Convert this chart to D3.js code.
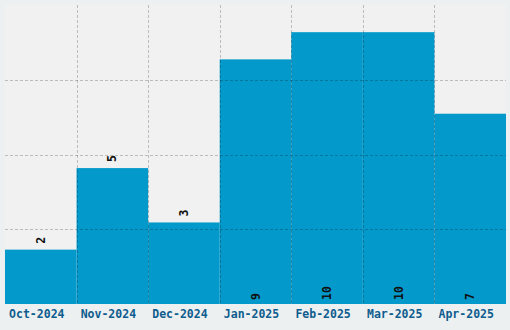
<!DOCTYPE html>
<html>
<head>
<meta charset="utf-8">
<script src="https://cdn.jsdelivr.net/npm/d3@7"></script>
<style>
  body { margin: 0; background: #edf0f1; }
</style>
</head>
<body>
<div id="chart"></div>
<script>
var months = ["Oct-2024", "Nov-2024", "Dec-2024", "Jan-2025", "Feb-2025", "Mar-2025", "Apr-2025"];
var counts = [2, 5, 3, 9, 10, 10, 7];
var yMax = 11;
var gridTicks = [0, 2.75, 5.5, 8.25, 11];

var margin = { top: 5, right: 4, bottom: 26, left: 5 },
    width = 510 - margin.left - margin.right,
    height = 330 - margin.top - margin.bottom;

var svg = d3
    .select("#chart")
    .append("svg")
    .attr("width", 510)
    .attr("height", 330)
    .style("display", "block")
    .append("g")
    .attr("transform", "translate(" + margin.left + "," + margin.top + ")");

var x = d3.scaleBand().domain(months).range([0, width]).padding(0);
var y = d3.scaleLinear().domain([0, yMax]).range([height, 0]);

svg.append("rect")
    .attr("width", width)
    .attr("height", height)
    .attr("fill", "#f1f1f1");

// bars
svg.append("g")
    .selectAll("rect")
    .data(months)
    .enter()
    .append("rect")
    .attr("x", function (d) { return x(d); })
    .attr("y", function (d, i) { return y(counts[i]); })
    .attr("width", x.bandwidth())
    .attr("height", function (d, i) { return height - y(counts[i]); })
    .attr("fill", "#0399ca");

// grid on top of bars
var grid = svg.append("g")
    .attr("stroke", "rgba(0,0,0,0.22)")
    .attr("stroke-dasharray", "3,2")
    .attr("stroke-width", 1);

grid.selectAll("line.h")
    .data(gridTicks.slice(1, -1))
    .enter()
    .append("line")
    .attr("class", "h")
    .attr("x1", 0)
    .attr("x2", width)
    .attr("y1", function (d) { return Math.round(y(d)) + 0.5; })
    .attr("y2", function (d) { return Math.round(y(d)) + 0.5; });

grid.selectAll("line.v")
    .data(months.slice(1))
    .enter()
    .append("line")
    .attr("class", "v")
    .attr("y1", 0)
    .attr("y2", height)
    .attr("x1", function (d) { return Math.round(x(d)) + 0.5; })
    .attr("x2", function (d) { return Math.round(x(d)) + 0.5; });

// value labels
svg.append("g")
    .selectAll("text")
    .data(months)
    .enter()
    .append("text")
    .attr("transform", function (d, i) {
        var cx = x(d) + x.bandwidth() / 2;
        var ty = counts[i] >= 7 ? height - 4 : y(counts[i]) - 6;
        return "translate(" + cx + "," + ty + ") rotate(-90)";
    })
    .attr("dominant-baseline", "central")
    .attr("text-anchor", "start")
    .style("font-family", "'DejaVu Sans Mono', monospace")
    .style("font-weight", "bold")
    .style("font-size", "11.5px")
    .attr("fill", "#111")
    .text(function (d, i) { return counts[i]; });

// x axis labels
var xAxis = svg.append("g")
    .attr("transform", "translate(0," + height + ")")
    .call(d3.axisBottom(x).tickSize(0).tickPadding(6));
xAxis.select(".domain").remove();
xAxis.selectAll("text")
    .attr("dx", -4)
    .style("font-family", "'DejaVu Sans Mono', monospace")
    .style("font-weight", "bold")
    .style("font-size", "11.5px")
    .attr("fill", "#0e5d8e");
</script>
</body>
</html>
